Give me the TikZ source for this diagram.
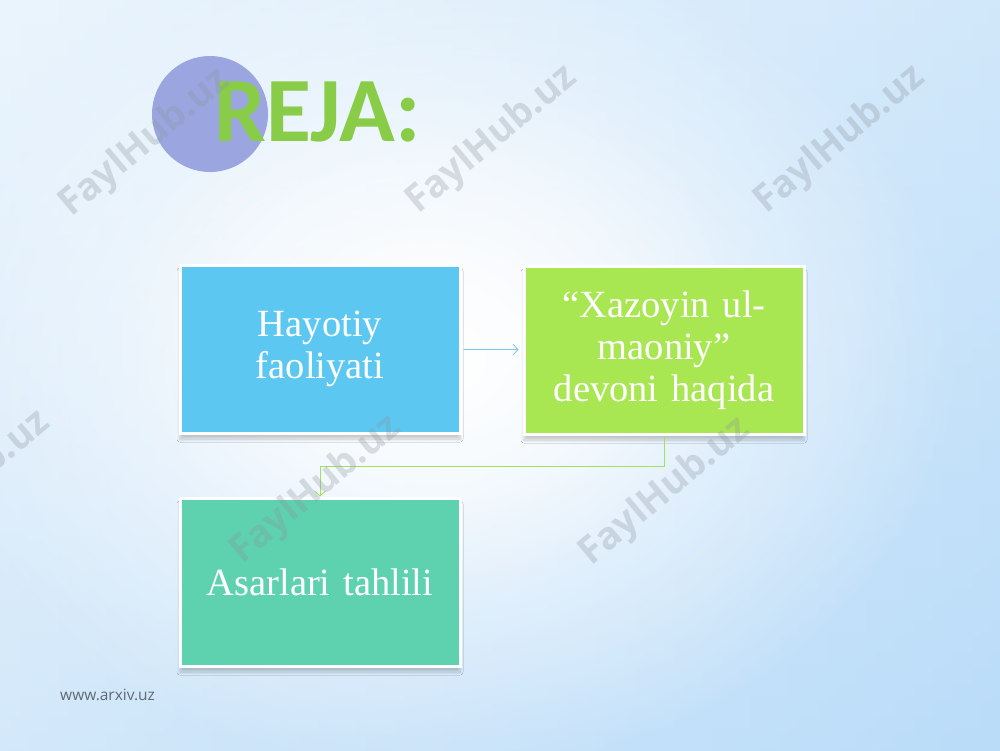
\documentclass[tikz,border=0pt]{standalone}
\usepackage{fontspec}
\setmainfont{Liberation Serif}
\newfontfamily\titlefont{Carlito}
\newfontfamily\wmfont{Open Sans}
\usetikzlibrary{arrows.meta,shadows.blur,fadings}
\definecolor{bgleft}{HTML}{E6F2FC}
\definecolor{bgright}{HTML}{B2D8F8}
\definecolor{circlecol}{HTML}{9BA6E0}
\definecolor{titlegreen}{HTML}{88CC48}
\definecolor{boxblue}{HTML}{5CC8F2}
\definecolor{boxgreen}{HTML}{A8E652}
\definecolor{boxteal}{HTML}{5ED2AE}
\definecolor{lineblue}{HTML}{7CC6EC}
\definecolor{linegreen}{HTML}{A4E060}
\definecolor{sitegray}{HTML}{5F6973}
\definecolor{wmgray}{HTML}{8C959E}
\tikzfading[name=softcenter, inner color=transparent!0, outer color=transparent!100]
\begin{document}
\begin{tikzpicture}[x=1pt,y=-1pt,
  stepbox/.style={rectangle, minimum width=280pt, minimum height=168pt,
    draw=white, line width=3pt, text=white, align=center, text width=266pt,
    font=\fontsize{38.5}{42}\selectfont,
    blur shadow={shadow xshift=0pt, shadow yshift=-6pt, shadow opacity=20, shadow blur radius=3pt, shadow blur steps=10}},
  wm/.style={font=\wmfont\bfseries\fontsize{38}{38}\selectfont, text=wmgray, opacity=0.3, rotate=40},
  conn/.style={line width=0.8pt, -{Straight Barb[length=5pt,width=11pt]}}
]
\useasboundingbox (0,0) rectangle (1000,750);
% background
\shade[left color=bgleft, right color=bgright] (0,0) rectangle (1000,750);
\shade[top color=bgleft!60!white, bottom color=bgright!80!white, opacity=0.5] (0,0) rectangle (1000,750);
\fill[white, path fading=softcenter] (440,360) ellipse (520 and 420);
\fill[white, path fading=softcenter, opacity=0.7] (430,330) ellipse (330 and 260);
% title
\fill[circlecol] (210,114) circle (58);
\node[font=\titlefont\bfseries\fontsize{92}{92}\selectfont, text=titlegreen, anchor=base west, inner sep=0pt] (title) at (214,141) {REJA:};
% boxes
\node[stepbox, fill=boxblue] (b1) at (320,349) {Hayotiy\\faoliyati};
\node[stepbox, fill=boxgreen] (b2) at (664,350) {“Xazoyin ul-\\maoniy”\\devoni haqida};
\node[stepbox, fill=boxteal] (b3) at (320,582) {Asarlari tahlili};
% connectors
\draw[conn, lineblue, shorten <=2pt, shorten >=4pt] (b1) -- (b2);
\draw[conn, linegreen] (b2.south) -- ++(0,31) -| (b3.north);
% watermarks
\node[wm] (w1) at (145,143) {FaylHub.uz};
\node[wm] (w2) at (492,140) {FaylHub.uz};
\node[wm] (w3) at (840,140) {FaylHub.uz};
\node[wm] (w4) at (-35,485) {FaylHub.uz};
\node[wm] (w5) at (316,490) {FaylHub.uz};
\node[wm] (w6) at (665,492) {FaylHub.uz};
% site
\node[font=\wmfont\fontsize{15.5}{16}\selectfont, text=sitegray, anchor=west, inner sep=0pt] (site) at (60,695) {www.arxiv.uz};
\end{tikzpicture}
\end{document}
